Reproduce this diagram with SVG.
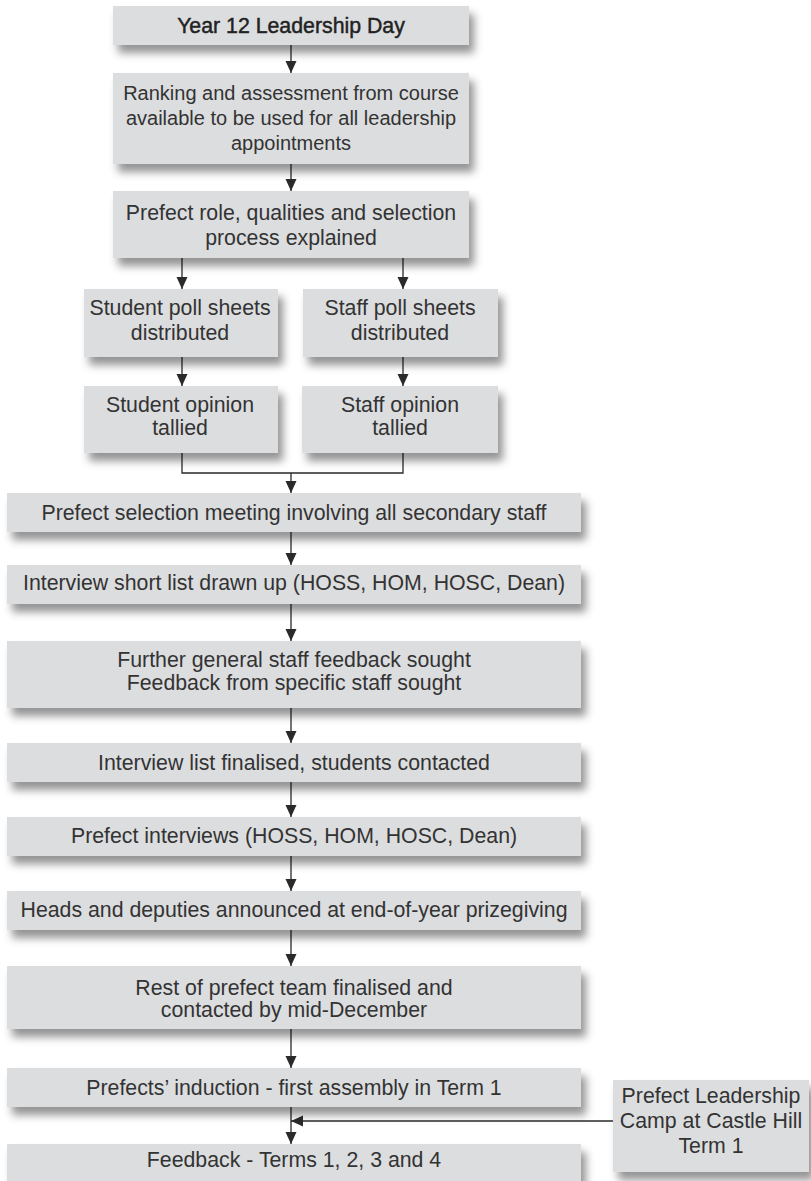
<svg xmlns="http://www.w3.org/2000/svg" width="811" height="1181" viewBox="0 0 811 1181">
<defs>
<filter id="sh" x="-10%" y="-30%" width="130%" height="180%">
<feDropShadow dx="5" dy="8" stdDeviation="4.5" flood-color="#000" flood-opacity="0.42"/>
</filter>
<marker id="ah" markerUnits="userSpaceOnUse" markerWidth="12" markerHeight="12" refX="12" refY="6" orient="auto">
<path d="M0,0.5 L12,6 L0,11.5 z" fill="#2a2a2a"/>
</marker>
</defs>
<style>
.box{fill:#dcdddf;filter:url(#sh)}
.t{font-family:"Liberation Sans",Arial,sans-serif;font-size:21.3px;fill:#333;text-anchor:middle}
.s{font-size:20px}
.b{fill:#222;stroke:#222;stroke-width:0.45}
.c{fill:none;stroke:#2a2a2a;stroke-width:1.3}
.a{marker-end:url(#ah)}
</style>
<rect x="0" y="0" width="811" height="1181" fill="#fff"/>
<g id="connectors">
<path class="c a" d="M291,45 V73"/>
<path class="c a" d="M291,164 V191"/>
<path class="c a" d="M182,258 V289"/>
<path class="c a" d="M403,258 V289"/>
<path class="c a" d="M182,357 V386"/>
<path class="c a" d="M403,357 V386"/>
<path class="c" d="M182,453 V473 H403 V453"/>
<path class="c a" d="M291,473 V493"/>
<path class="c a" d="M291,532 V565"/>
<path class="c a" d="M291,604 V641"/>
<path class="c a" d="M291,708 V743"/>
<path class="c a" d="M291,782 V817"/>
<path class="c a" d="M291,856 V891"/>
<path class="c a" d="M291,930 V966"/>
<path class="c a" d="M291,1029 V1068"/>
<path class="c a" d="M291,1107 V1144"/>
<path class="c a" d="M613,1121 H291"/>
</g>
<g id="n1"><rect class="box" x="113" y="6" width="356" height="39"/><text class="t b" x="291" y="33">Year 12 Leadership Day</text></g>
<g id="n2"><rect class="box" x="113" y="73" width="356" height="91"/><text class="t s" x="291" y="100">Ranking and assessment from course</text><text class="t s" x="291" y="125">available to be used for all leadership</text><text class="t s" x="291" y="150">appointments</text></g>
<g id="n3"><rect class="box" x="113" y="191" width="356" height="67"/><text class="t" x="291" y="220">Prefect role, qualities and selection</text><text class="t" x="291" y="245">process explained</text></g>
<g id="n4"><rect class="box" x="84" y="289" width="194" height="68"/><text class="t" x="180" y="315">Student poll sheets</text><text class="t" x="180" y="340">distributed</text></g>
<g id="n5"><rect class="box" x="303" y="289" width="195" height="68"/><text class="t" x="400" y="315">Staff poll sheets</text><text class="t" x="400" y="340">distributed</text></g>
<g id="n6"><rect class="box" x="84" y="386" width="194" height="67"/><text class="t" x="180" y="412">Student opinion</text><text class="t" x="180" y="435">tallied</text></g>
<g id="n7"><rect class="box" x="302" y="386" width="196" height="67"/><text class="t" x="400" y="412">Staff opinion</text><text class="t" x="400" y="435">tallied</text></g>
<g id="n8"><rect class="box" x="7" y="493" width="574" height="39"/><text class="t" x="294" y="520">Prefect selection meeting involving all secondary staff</text></g>
<g id="n9"><rect class="box" x="7" y="565" width="574" height="39"/><text class="t" x="294" y="590">Interview short list drawn up (HOSS, HOM, HOSC, Dean)</text></g>
<g id="n10"><rect class="box" x="7" y="641" width="574" height="67"/><text class="t" x="294" y="667">Further general staff feedback sought</text><text class="t" x="294" y="690">Feedback from specific staff sought</text></g>
<g id="n11"><rect class="box" x="7" y="743" width="574" height="39"/><text class="t" x="294" y="770">Interview list finalised, students contacted</text></g>
<g id="n12"><rect class="box" x="7" y="817" width="574" height="39"/><text class="t" x="294" y="843">Prefect interviews (HOSS, HOM, HOSC, Dean)</text></g>
<g id="n13"><rect class="box" x="7" y="891" width="574" height="39"/><text class="t" x="294" y="917">Heads and deputies announced at end-of-year prizegiving</text></g>
<g id="n14"><rect class="box" x="7" y="966" width="574" height="63"/><text class="t" x="294" y="995">Rest of prefect team finalised and</text><text class="t" x="294" y="1017">contacted by mid-December</text></g>
<g id="n15"><rect class="box" x="7" y="1068" width="574" height="39"/><text class="t" x="294" y="1095">Prefects’ induction - first assembly in Term 1</text></g>
<g id="n16"><rect class="box" x="7" y="1144" width="574" height="39"/><text class="t" x="294" y="1167">Feedback - Terms 1, 2, 3 and 4</text></g>
<g id="n17"><rect class="box" x="613" y="1080" width="196" height="92"/><text class="t" x="711" y="1103">Prefect Leadership</text><text class="t" x="711" y="1128">Camp at Castle Hill</text><text class="t" x="711" y="1153">Term 1</text></g>
</svg>
